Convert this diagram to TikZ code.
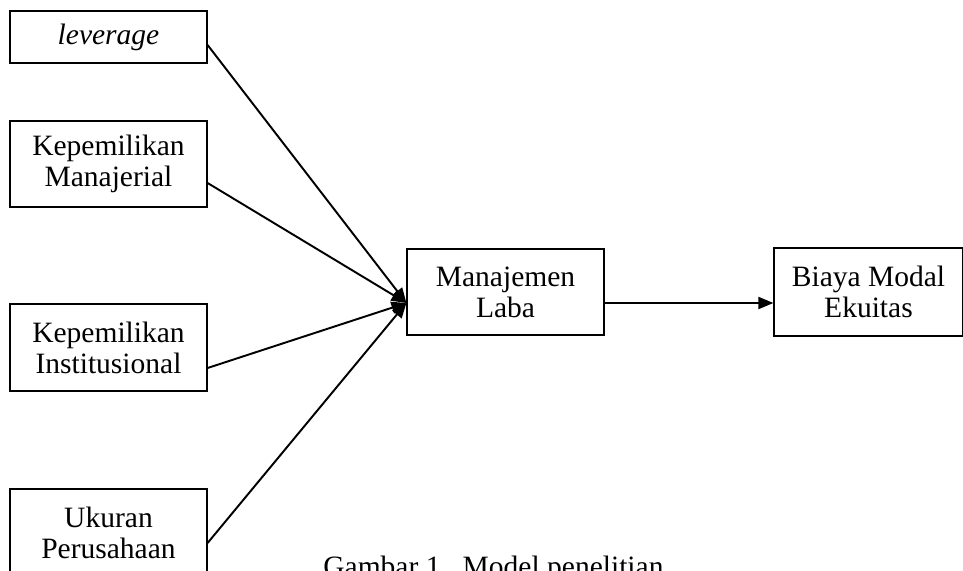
\documentclass[tikz,border=0pt]{standalone}
\usepackage{fontspec}
\setmainfont{Liberation Serif}
\usetikzlibrary{arrows.meta}

\tikzset{
  varbox/.style={draw, line width=0.7pt, align=center, inner sep=0pt,
    font=\fontsize{16.8}{17.6}\selectfont},
  link/.style={line width=1.1pt, -{Triangle[length=0.3cm, width=0.24cm]}}
}

\begin{document}
\begin{tikzpicture}[x=0.02cm, y=-0.02cm]
                \useasboundingbox (0,0) rectangle (963,571);

                % Independent variables
                \node[varbox, minimum width=3.94cm, minimum height=1.04cm] (lev) at (108.5,37) {\textit{leverage}};
                \node[varbox, minimum width=3.94cm, minimum height=1.72cm] (kman) at (108.5,164) {Kepemilikan\\Manajerial};
                \node[varbox, minimum width=3.94cm, minimum height=1.74cm] (kinst) at (108.5,347.5) {Kepemilikan\\Institusional};
                \node[varbox, minimum width=3.94cm, minimum height=1.74cm] (ukuran) at (108.5,532.5) {Ukuran\\Perusahaan};

                % Intervening and dependent variables
                \node[varbox, minimum width=3.94cm, minimum height=1.72cm] (laba) at (505.5,292) {Manajemen\\Laba};
                \node[varbox, minimum width=3.78cm, minimum height=1.76cm] (biaya) at (868.5,292) {Biaya Modal\\Ekuitas};

                % Arrows
                \draw[link] ([yshift=-0.16cm]lev.east) -- ([yshift=-0.22cm]laba.west);
                \draw[link] ([yshift=-0.38cm]kman.east) -- ([yshift=-0.22cm]laba.west);
                \draw[link] ([yshift=-0.41cm]kinst.east) -- ([yshift=-0.22cm]laba.west);
                \draw[link] ([yshift=-0.21cm]ukuran.east) -- ([yshift=-0.22cm]laba.west);
                \draw[link] ([yshift=-0.22cm]laba.east) -- ([yshift=-0.22cm]biaya.west);

                % Caption
                \node[anchor=base west, inner sep=0pt, font=\fontsize{16.8}{17.6}\selectfont] (caption) at (323,576) {Gambar 1.\ \ Model penelitian};
            \end{tikzpicture}
\end{document}
